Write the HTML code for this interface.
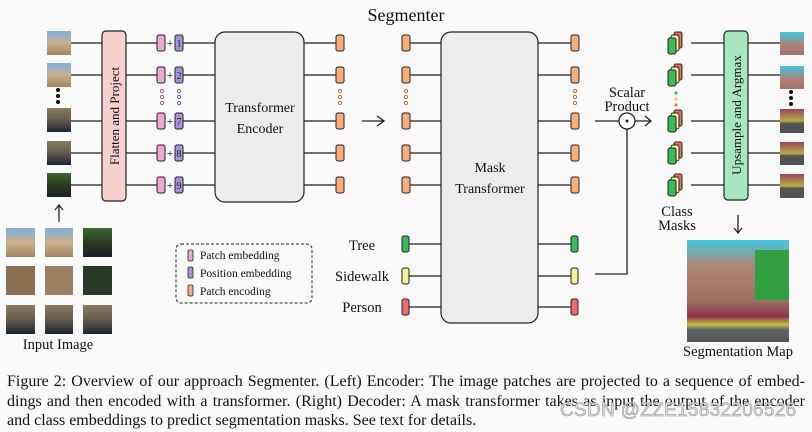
<!DOCTYPE html>
<html><head><meta charset="utf-8"><style>
body{margin:0;background:#fafafa;width:812px;height:432px;overflow:hidden;position:relative;font-family:"Liberation Serif",serif;}
svg{position:absolute;left:0;top:0}
.cap{position:absolute;left:7px;width:798px;top:372px;font-size:16px;line-height:19.5px;color:#111}
.cap div{text-align:justify;text-align-last:justify;white-space:nowrap}
.cap div.l{text-align-last:left}
.wm{position:absolute;left:560px;top:400px;font-family:"Liberation Sans",sans-serif;font-size:19px;color:#ddd;-webkit-text-stroke:0.6px #999;letter-spacing:0.3px}
</style></head><body>
<svg width="812" height="432" xmlns="http://www.w3.org/2000/svg" font-family="Liberation Serif, serif">
<defs>
<linearGradient id="th1" x1="0" y1="0" x2="0" y2="1"><stop offset="0" stop-color="#7fb0e0"/><stop offset="0.5" stop-color="#c9b08a"/><stop offset="1" stop-color="#a08460"/></linearGradient>
<linearGradient id="th2" x1="0" y1="0" x2="0" y2="1"><stop offset="0" stop-color="#8a7a60"/><stop offset="0.45" stop-color="#6a6050"/><stop offset="1" stop-color="#1e2630"/></linearGradient>
<linearGradient id="th3" x1="0" y1="0" x2="0" y2="1"><stop offset="0" stop-color="#3a6a30"/><stop offset="0.5" stop-color="#2a3a20"/><stop offset="1" stop-color="#1a2028"/></linearGradient>
<linearGradient id="sg1" x1="0" y1="0" x2="0" y2="1"><stop offset="0" stop-color="#40c8e0"/><stop offset="0.6" stop-color="#b08070"/><stop offset="1" stop-color="#a07070"/></linearGradient>
<linearGradient id="sg2" x1="0" y1="0" x2="0" y2="1"><stop offset="0" stop-color="#a04060"/><stop offset="0.5" stop-color="#b0b040"/><stop offset="0.6" stop-color="#555"/><stop offset="1" stop-color="#505058"/></linearGradient>
<linearGradient id="sgm" x1="0" y1="0" x2="0" y2="1"><stop offset="0" stop-color="#40c8e0"/><stop offset="0.25" stop-color="#b08878"/><stop offset="0.6" stop-color="#9a7060"/><stop offset="0.75" stop-color="#903050"/><stop offset="0.83" stop-color="#c0c040"/><stop offset="0.88" stop-color="#606068"/><stop offset="1" stop-color="#55555c"/></linearGradient>
</defs>
<text x="406" y="21" font-size="18" text-anchor="middle" fill="#111">Segmenter</text>
<g stroke="#222" stroke-width="1.3" fill="none">
<path d="M71 43H102M71 75H102M71 121H102M71 153H102M71 185H102"/>
<path d="M126 43H157M126 75H157M126 121H157M126 153H157M126 185H157"/>
<path d="M183 43H215M183 75H215M183 121H215M183 153H215M183 185H215"/>
<path d="M304 43H336M304 75H336M304 121H336M304 153H336M304 185H336"/>
<path d="M410 43H441M410 75H441M410 121H441M410 153H441M410 185H441"/>
<path d="M538 43H571M538 75H571M538 121H571M538 153H571M538 185H571"/>
<path d="M408 244H441M408 276H441M408 307H441"/>
<path d="M538 244H571M538 276H571M538 307H571"/>
<path d="M691 43H724M691 75H724M691 121H724M691 153H724M691 185H724"/>
<path d="M748 43H780M748 75H780M748 121H780M748 153H780M748 185H780"/>
<path d="M362 121H384M377 116L384 121L377 126"/>
<path d="M595 121H619M635 121H651M645 116L651 121L645 126"/>
<path d="M627 129V274H595"/>
<path d="M59 222V206M55 210L59 205L63 210"/>
<path d="M738 215V232M734 228L738 233L742 228"/>
</g>
<circle cx="627" cy="121" r="8" fill="#fff" stroke="#222" stroke-width="1.3"/>
<circle cx="627" cy="121" r="1.5" fill="#222"/>
<rect x="47" y="31" width="24" height="24" fill="url(#th1)"/>
<rect x="47" y="63" width="24" height="24" fill="url(#th1)"/>
<rect x="47" y="108" width="24" height="24" fill="url(#th2)"/>
<rect x="47" y="141" width="24" height="24" fill="url(#th2)"/>
<rect x="47" y="173" width="24" height="24" fill="url(#th3)"/>
<g fill="#111"><circle cx="58" cy="90" r="2"/><circle cx="58" cy="96" r="2"/><circle cx="58" cy="102" r="2"/></g>
<rect x="102" y="31" width="24" height="170" rx="4" fill="#f8d0d0" stroke="#222" stroke-width="1.2"/>
<text transform="translate(119,116) rotate(-90)" font-size="13" text-anchor="middle" fill="#111">Flatten and Project</text>
<g stroke="#222" stroke-width="1">
<g fill="#eba8d0">
<rect x="157" y="35" width="8" height="16" rx="2"/><rect x="157" y="67" width="8" height="16" rx="2"/><rect x="157" y="113" width="8" height="16" rx="2"/><rect x="157" y="145" width="8" height="16" rx="2"/><rect x="157" y="177" width="8" height="16" rx="2"/></g>
<g fill="#a894dc">
<rect x="175" y="35" width="8" height="16" rx="2"/><rect x="175" y="67" width="8" height="16" rx="2"/><rect x="175" y="113" width="8" height="16" rx="2"/><rect x="175" y="145" width="8" height="16" rx="2"/><rect x="175" y="177" width="8" height="16" rx="2"/></g>
</g>
<g font-size="12" text-anchor="middle" fill="#111">
<text x="170" y="47">+</text><text x="170" y="79">+</text><text x="170" y="125">+</text><text x="170" y="157">+</text><text x="170" y="189">+</text>
</g>
<g font-size="10" text-anchor="middle" fill="#222">
<text x="179" y="47">1</text><text x="179" y="79">2</text><text x="179" y="125">7</text><text x="179" y="157">8</text><text x="179" y="189">9</text>
</g>
<g fill="none" stroke-width="1">
<g stroke="#a06090"><circle cx="162" cy="91" r="1.6"/><circle cx="162" cy="97" r="1.6"/><circle cx="162" cy="103" r="1.6"/></g>
<g stroke="#7060a0"><circle cx="179" cy="91" r="1.6"/><circle cx="179" cy="97" r="1.6"/><circle cx="179" cy="103" r="1.6"/></g>
<g stroke="#b07040"><circle cx="340" cy="91" r="1.6"/><circle cx="340" cy="97" r="1.6"/><circle cx="340" cy="103" r="1.6"/>
<circle cx="406" cy="91" r="1.6"/><circle cx="406" cy="97" r="1.6"/><circle cx="406" cy="103" r="1.6"/>
<circle cx="575" cy="91" r="1.6"/><circle cx="575" cy="97" r="1.6"/><circle cx="575" cy="103" r="1.6"/></g>
</g>
<rect x="215" y="32" width="89" height="170" rx="10" fill="#ececec" stroke="#222" stroke-width="1.2"/>
<text x="260" y="112" font-size="14" text-anchor="middle" fill="#111">Transformer</text>
<text x="260" y="133" font-size="14" text-anchor="middle" fill="#111">Encoder</text>
<g fill="#f6ae7a" stroke="#222" stroke-width="1">
<rect x="336" y="35" width="8" height="16" rx="2"/><rect x="336" y="67" width="8" height="16" rx="2"/><rect x="336" y="113" width="8" height="16" rx="2"/><rect x="336" y="145" width="8" height="16" rx="2"/><rect x="336" y="177" width="8" height="16" rx="2"/>
<rect x="402" y="35" width="8" height="16" rx="2"/><rect x="402" y="67" width="8" height="16" rx="2"/><rect x="402" y="113" width="8" height="16" rx="2"/><rect x="402" y="145" width="8" height="16" rx="2"/><rect x="402" y="177" width="8" height="16" rx="2"/>
<rect x="571" y="35" width="8" height="16" rx="2"/><rect x="571" y="67" width="8" height="16" rx="2"/><rect x="571" y="113" width="8" height="16" rx="2"/><rect x="571" y="145" width="8" height="16" rx="2"/><rect x="571" y="177" width="8" height="16" rx="2"/>
</g>
<g stroke="#222" stroke-width="1">
<rect x="402" y="236" width="7" height="16" rx="2" fill="#3cba5a"/><rect x="402" y="268" width="7" height="16" rx="2" fill="#f6f09a"/><rect x="402" y="299" width="7" height="16" rx="2" fill="#f06a6a"/>
<rect x="571" y="236" width="7" height="16" rx="2" fill="#3cba5a"/><rect x="571" y="268" width="7" height="16" rx="2" fill="#f6f09a"/><rect x="571" y="299" width="7" height="16" rx="2" fill="#f06a6a"/>
</g>
<rect x="441" y="32" width="97" height="291" rx="10" fill="#ececec" stroke="#222" stroke-width="1.2"/>
<text x="490" y="172" font-size="14" text-anchor="middle" fill="#111">Mask</text>
<text x="490" y="193" font-size="14" text-anchor="middle" fill="#111">Transformer</text>
<g font-size="14.5" text-anchor="middle" fill="#111">
<text x="362" y="250">Tree</text><text x="362" y="281">Sidewalk</text><text x="362" y="312">Person</text>
<text x="627" y="97">Scalar</text><text x="627" y="111">Product</text>
<text x="677" y="216">Class</text><text x="677" y="230">Masks</text>
<text x="58" y="349">Input Image</text>
<text x="738" y="356">Segmentation Map</text>
</g>
<rect x="176" y="244" width="136" height="59" rx="5" fill="none" stroke="#222" stroke-width="1" stroke-dasharray="3,2"/>
<g stroke="#222" stroke-width="0.8">
<rect x="188" y="250" width="5" height="11" rx="1.5" fill="#eba8d0"/><rect x="188" y="267" width="5" height="11" rx="1.5" fill="#a894dc"/><rect x="188" y="285" width="5" height="11" rx="1.5" fill="#f6ae7a"/></g>
<g font-size="11.5" fill="#111"><text x="200" y="259">Patch embedding</text><text x="200" y="277">Position embedding</text><text x="200" y="295">Patch encoding</text></g>
<g stroke="#222" stroke-width="1">
<g id="cm"><rect x="674" y="32" width="8" height="16" rx="2" fill="#f06a6a"/><rect x="671" y="35" width="8" height="16" rx="2" fill="#f6f09a"/><rect x="668" y="38" width="8" height="16" rx="2" fill="#3cba5a"/></g>
<use href="#cm" y="32"/><use href="#cm" y="78"/><use href="#cm" y="110"/><use href="#cm" y="142"/>
</g>
<circle cx="676" cy="93" r="1.6" fill="#3cba5a"/><circle cx="676" cy="99" r="1.6" fill="#e8d860"/><circle cx="676" cy="105" r="1.6" fill="#f06a6a"/>
<rect x="724" y="31" width="24" height="169" rx="4" fill="#a8e6c0" stroke="#222" stroke-width="1.2"/>
<text transform="translate(741,115) rotate(-90)" font-size="13" text-anchor="middle" fill="#111">Upsample and Argmax</text>
<rect x="780" y="32" width="24" height="23" fill="url(#sg1)"/>
<rect x="780" y="66" width="24" height="23" fill="url(#sg1)"/>
<rect x="780" y="109" width="24" height="24" fill="url(#sg2)"/>
<rect x="780" y="142" width="24" height="23" fill="url(#sg2)"/>
<rect x="780" y="174" width="24" height="24" fill="url(#sg2)"/>
<g fill="#111"><circle cx="791" cy="92" r="2"/><circle cx="791" cy="98" r="2"/><circle cx="791" cy="104" r="2"/></g>
<rect x="6" y="228" width="29" height="29" fill="url(#th1)"/><rect x="45" y="228" width="28" height="29" fill="url(#th1)"/><rect x="83" y="228" width="29" height="29" fill="url(#th3)"/>
<rect x="6" y="266" width="29" height="29" fill="#8a7050"/><rect x="45" y="266" width="28" height="29" fill="#9a8060"/><rect x="83" y="266" width="29" height="29" fill="#2a3a22"/>
<rect x="6" y="305" width="29" height="29" fill="url(#th2)"/><rect x="45" y="305" width="28" height="29" fill="url(#th2)"/><rect x="83" y="305" width="29" height="29" fill="url(#th2)"/>
<rect x="687" y="240" width="102" height="102" fill="url(#sgm)"/>
<rect x="755" y="250" width="34" height="50" fill="#30a040"/>
</svg>
<div class="cap">
<div>Figure 2: Overview of our approach Segmenter. (Left) Encoder: The image patches are projected to a sequence of embed-</div>
<div>dings and then encoded with a transformer. (Right) Decoder: A mask transformer takes as input the output of the encoder</div>
<div class="l">and class embeddings to predict segmentation masks. See text for details.</div>
</div>
<div class="wm">CSDN @ZZE15832206526</div>
</body></html>
